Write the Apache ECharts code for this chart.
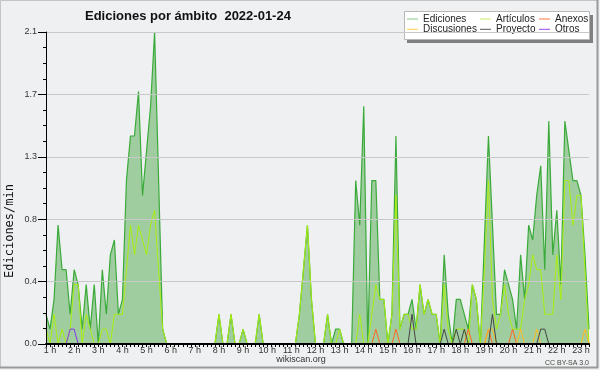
<!DOCTYPE html>
<html>
<head>
<meta charset="utf-8">
<script src="https://cdn.jsdelivr.net/npm/echarts@6/dist/echarts.min.js"></script>
<style>
html,body{margin:0;padding:0;background:#eff0f1;}
#c{width:600px;height:370px;}
</style>
</head>
<body>
<div id="c"></div>
<script>
// 10-minute slots, starting 0:50, 136 points
var startMinutes = 50, slotMinutes = 10, slotCount = 136;
var categories = [];
for (var k = 0; k < slotCount; k++) {
  var m = startMinutes + k * slotMinutes;
  categories.push(Math.floor(m / 60) + ':' + ('0' + (m % 60)).slice(-2));
}
var yTickLabels = ['0.0', '0.4', '0.8', '1.3', '1.7', '2.1'];

var ediciones = [
0.2,0.1,0.3,0.8,0.5,0.5,0.2,0.5,0.4,0.1, 0.4,0.1,0.4,0,0.5,0.2,0.6,0.7,0.2,0.3,
1.1,1.4,1.4,1.7,1.0,1.3,1.6,2.1,1.1,0.1, 0,0,0,0,0,0,0,0,0,0,
0,0,0,0.2,0,0,0.2,0,0,0.1, 0,0,0,0.2,0,0,0,0,0,0,
0,0,0,0.2,0.5,0.8,0.3,0,0,0, 0.2,0,0.1,0.1,0,0,0,1.1,0.8,1.6,
0,1.1,1.1,0.3,0.3,0,0.2,1.4,0.1,0.2, 0.2,0.3,0.1,0.4,0.2,0.3,0.2,0.2,0,0.6,
0.2,0,0.3,0.3,0.2,0.1,0.4,0.3,0,0.7, 1.4,0.8,0.2,0.2,0.5,0.4,0.3,0.1,0.6,0.3,
0.8,0.7,1.0,1.2,0.5,1.5,0.6,0.9,0.4,1.5, 1.3,1.1,1.1,1.0,0.6,0.1
];
var articulos = [
0.1,0,0.2,0,0.1,0,0.1,0.4,0.4,0, 0.2,0.1,0,0,0.1,0.1,0,0.2,0.2,0.2,
0.5,0.8,0.6,0.8,0.7,0.6,0.8,0.9,0.5,0.1, 0,0,0,0,0,0,0,0,0,0,
0,0,0,0.2,0,0,0.2,0,0,0.1, 0,0,0,0.2,0,0,0,0,0,0,
0,0,0,0.2,0.5,0.8,0.3,0,0,0, 0.2,0,0,0.1,0,0,0,0,0.2,0,
0,0.2,0.4,0.3,0.3,0,0.2,1.0,0.1,0.2, 0.2,0.1,0.1,0.4,0.2,0.3,0.2,0.2,0,0.4,
0.1,0,0.1,0.1,0.1,0,0.4,0.3,0,0.5, 1.1,0.3,0.1,0.2,0.4,0.2,0.1,0.1,0.1,0.3,
0.4,0.6,0.5,0.5,0.2,0.2,0.2,0.6,0.3,1.1, 1.1,0.8,1.0,1.0,0.5,0
];
var anexos = [
0,0,0,0,0,0,0,0,0,0, 0,0,0,0,0,0,0,0,0,0,
0,0,0,0,0,0,0,0,0,0, 0,0,0,0,0,0,0,0,0,0,
0,0,0,0,0,0,0,0,0,0, 0,0,0,0,0,0,0,0,0,0,
0,0,0,0,0,0,0,0,0,0, 0,0,0,0,0,0,0,0,0,0,
0,0,0.1,0,0,0,0,0.1,0,0, 0,0,0,0,0,0,0,0,0,0,
0,0,0,0,0,0.1,0,0,0,0, 0.1,0,0,0,0,0,0.1,0,0,0,
0,0,0,0,0,0,0,0,0,0, 0,0,0,0,0,0
];
var discusiones = [
0,0,0,0,0,0,0,0,0,0, 0,0,0,0,0,0,0,0,0,0,
0,0,0,0,0,0,0,0,0,0, 0,0,0,0,0,0,0,0,0,0,
0,0,0,0,0,0,0,0,0,0, 0,0,0,0,0,0,0,0,0,0,
0,0,0,0,0,0,0,0,0,0, 0,0,0,0,0,0,0,0,0,0,
0,0,0,0,0,0,0,0,0,0, 0,0,0,0,0,0,0,0,0,0,
0,0,0,0,0,0,0,0,0,0, 0.1,0.1,0,0,0,0,0,0,0.1,0,
0,0,0.1,0,0,0,0,0,0,0, 0,0,0,0,0.1,0
];
var proyecto = [
0,0,0,0,0,0,0,0,0,0, 0,0,0,0,0,0,0,0,0,0,
0,0,0,0,0,0,0,0,0,0, 0,0,0,0,0,0,0,0,0,0,
0,0,0,0,0,0,0,0,0,0, 0,0,0,0,0,0,0,0,0,0,
0,0,0,0,0,0,0,0,0,0, 0,0,0,0,0,0,0,0,0,0,
0,0,0,0,0,0,0,0,0,0, 0,0.2,0,0,0,0,0,0,0,0.1,
0,0,0.1,0,0.1,0,0,0,0,0, 0,0.2,0,0,0,0,0,0,0,0,
0,0,0,0.1,0.1,0,0,0,0,0, 0,0,0,0,0,0
];
var otros = [
0,0,0,0,0,0,0.1,0.1,0,0, 0,0,0,0,0,0,0,0,0,0,
0,0,0,0,0,0,0,0,0,0, 0,0,0,0,0,0,0,0,0,0,
0,0,0,0,0,0,0,0,0,0, 0,0,0,0,0,0,0,0,0,0,
0,0,0,0,0,0,0,0,0,0, 0,0,0,0,0,0,0,0,0,0,
0,0,0,0,0,0,0,0,0,0, 0,0,0,0,0,0,0,0,0,0,
0,0,0,0,0,0,0,0,0,0, 0,0,0,0,0,0,0,0,0,0,
0,0,0,0,0,0,0,0,0,0, 0,0,0,0,0,0
];

var FONT = '"Liberation Sans", Arial, sans-serif';
var legendColors = {
  'Ediciones': '#80c880', 'Artículos': '#c8ee66', 'Anexos': '#ff7744',
  'Discusiones': '#ffcc44', 'Proyecto': '#555555', 'Otros': '#9944ee'
};
var chart = echarts.init(document.getElementById('c'), null, {renderer: 'canvas'});

function lineSeries(name, data, color, extra) {
  var s = {
    name: name, type: 'line', data: data, symbol: 'none', showSymbol: false,
    lineStyle: {color: color, width: 1}, itemStyle: {color: color},
    animation: false, z: 2
  };
  if (extra) for (var key in extra) s[key] = extra[key];
  return s;
}

function legendAt(left, names) {
  return {
    data: names.map(function (n) {
      return {name: n, icon: 'path://M0,0 L11,0 L11,1 L0,1 Z', itemStyle: {color: legendColors[n]}};
    }),
    orient: 'vertical', left: left, top: 14, padding: 0,
    itemWidth: 11, itemHeight: 1, itemGap: 0.3,
    selectedMode: false,
    textStyle: {fontFamily: FONT, fontSize: 10, color: '#222', lineHeight: 10, height: 10, verticalAlign: 'middle'}
  };
}

chart.setOption({
  backgroundColor: '#eff0f1',
  animation: false,
  title: {
    text: 'Ediciones por ámbito  2022-01-24',
    left: 80, top: 5,
    textStyle: {fontFamily: FONT, fontSize: 13, fontWeight: 'bold', color: '#111'}
  },
  legend: [
    legendAt(407, ['Ediciones', 'Discusiones']),
    legendAt(480, ['Artículos', 'Proyecto']),
    legendAt(539, ['Anexos', 'Otros'])
  ],
  grid: {left: 46, right: 11, top: 32, bottom: 26},
  xAxis: {
    type: 'category', data: categories, boundaryGap: false, z: 5,
    axisLine: {lineStyle: {color: '#000', width: 2}},
    axisTick: {show: true, interval: 0, length: 3, lineStyle: {color: '#000'}},
    axisLabel: {
      interval: function (index) { return (index - 1) % 6 === 0; },
      formatter: function (value) { return value.split(':')[0] + ' h'; },
      fontFamily: FONT, fontSize: 9, color: '#333', margin: 2
    },
    splitLine: {show: false}
  },
  yAxis: {
    type: 'value', min: 0, max: 2.1, interval: 0.42, z: 5,
    axisLine: {show: true, lineStyle: {color: '#000', width: 1}},
    axisTick: {show: true, length: 8, lineStyle: {color: '#000'}},
    minorTick: {show: true, splitNumber: 4, length: 3, lineStyle: {color: '#000'}},
    axisLabel: {
      formatter: function (v) {
        var idx = Math.round(v / 0.42);
        return yTickLabels[idx] !== undefined ? yTickLabels[idx] : v.toFixed(1);
      },
      fontFamily: FONT, fontSize: 9, color: '#333', margin: 9
    },
    splitLine: {show: true, lineStyle: {color: '#c8c8c8', width: 1}}
  },
  series: [
    lineSeries('Ediciones', ediciones, '#3aaa3a', {
      areaStyle: {color: '#9fcd9f', opacity: 1},
      lineStyle: {color: '#3aaa3a', width: 1.2}
    }),
    lineSeries('Artículos', articulos, '#aaee11'),
    lineSeries('Anexos', anexos, '#ff6622'),
    lineSeries('Discusiones', discusiones, '#ffbb22'),
    lineSeries('Proyecto', proyecto, '#444444'),
    lineSeries('Otros', otros, '#8833ee')
  ],
  graphic: [
    {type: 'rect', shape: {x: 0.5, y: 0.5, width: 597, height: 367}, style: {fill: 'none', stroke: '#c4c4c4', lineWidth: 1}, silent: true},
    {type: 'line', shape: {x1: 597.5, y1: 0, x2: 597.5, y2: 368}, style: {stroke: '#9a9a9a', lineWidth: 2}, silent: true},
    {type: 'line', shape: {x1: 0, y1: 367.5, x2: 598, y2: 367.5}, style: {stroke: '#9a9a9a', lineWidth: 2}, silent: true},
    {type: 'rect', shape: {x: 407, y: 15, width: 186, height: 28}, style: {fill: '#808080'}, z: 0, silent: true},
    {type: 'rect', shape: {x: 404.5, y: 11.5, width: 185, height: 28}, style: {fill: '#ffffff', stroke: '#b8b8b8', lineWidth: 1}, z: 0, silent: true},
    {type: 'text', x: 10, y: 231, rotation: Math.PI / 2,
      style: {text: 'Ediciones/min', font: '12px "DejaVu Sans Mono", monospace', fill: '#111', textAlign: 'center', textVerticalAlign: 'middle'}, silent: true},
    {type: 'text', x: 301, y: 360,
      style: {text: 'wikiscan.org', font: '9px ' + FONT, fill: '#333', textAlign: 'center', textVerticalAlign: 'middle'}, silent: true},
    {type: 'text', x: 589, y: 363,
      style: {text: 'CC BY-SA 3.0', font: '7px ' + FONT, fill: '#444', textAlign: 'right', textVerticalAlign: 'middle'}, silent: true}
  ]
});
</script>
</body>
</html>
